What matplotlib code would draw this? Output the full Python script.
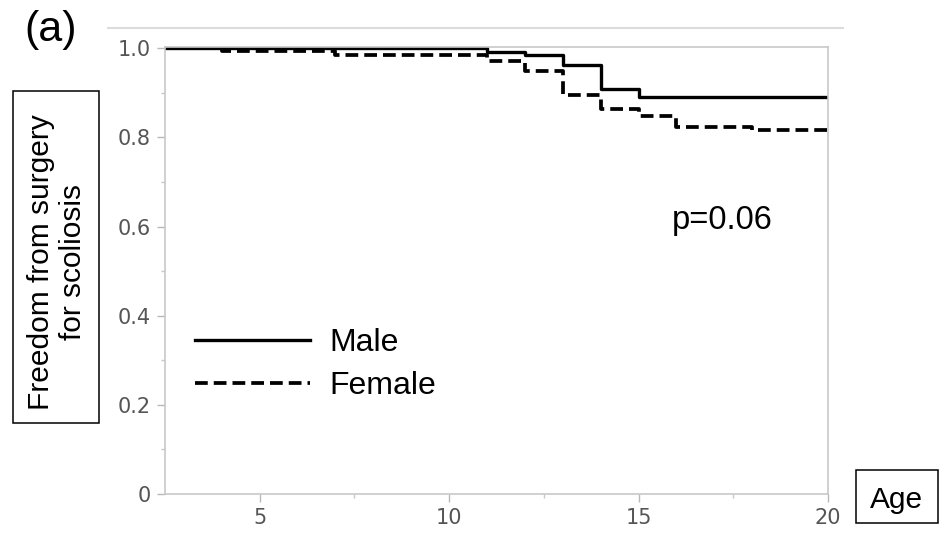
import matplotlib
matplotlib.use("Agg")
import matplotlib.pyplot as plt
from matplotlib.lines import Line2D
from matplotlib.patches import Rectangle

# ---- data ----
male_age = [2.5, 11, 12, 13, 14, 15, 20]
male_surv = [1.0, 0.992, 0.984, 0.963, 0.908, 0.890, 0.890]
female_age = [2.5, 4, 7, 11, 12, 13, 14, 15, 16, 18, 20]
female_surv = [1.0, 0.993, 0.986, 0.971, 0.949, 0.895, 0.864, 0.848, 0.823, 0.816, 0.810]
x_major = [5, 10, 15, 20]
x_minor = [7.5, 12.5, 17.5]
y_major = [0, 0.2, 0.4, 0.6, 0.8, 1.0]
y_major_labels = ["0", "0.2", "0.4", "0.6", "0.8", "1.0"]
y_minor = [0.1, 0.3, 0.5, 0.7, 0.9]

W, H = 939, 537
def fx(x):
    return x / W
def fy(y):
    return 1 - y / H

fig = plt.figure(figsize=(W / 100, H / 100), dpi=100)
ax = fig.add_axes([fx(165), fy(494), fx(828) - fx(165), fy(47) - fy(494)])

ax.step(male_age, male_surv, where="post", color="black", lw=2.4, label="Male")
ax.step(female_age, female_surv, where="post", color="black", lw=2.7,
        linestyle=(0, (3.4, 1.6)), label="Female")

ax.set_xlim(2.5, 20)
ax.set_ylim(0, 1.003)
ax.set_xticks(x_major)
ax.set_xticks(x_minor, minor=True)
ax.set_yticks(y_major)
ax.set_yticklabels(y_major_labels)
ax.set_yticks(y_minor, minor=True)

for s in ax.spines.values():
    s.set_color("#c8c8c8")
    s.set_linewidth(1.2)
ax.tick_params(which="major", length=6, width=1.0, color="#b8b8b8",
               labelsize=15, labelcolor="#555555", pad=4)
ax.tick_params(which="minor", length=3, width=1.0, color="#c8c8c8")

sans = "Liberation Sans"

leg = ax.legend(loc="upper left", bbox_to_anchor=(fx(195), fy(328)),
                bbox_transform=fig.transFigure, frameon=False,
                borderpad=0, borderaxespad=0, handlelength=3.6,
                handletextpad=0.62, labelspacing=0.42,
                prop={"family": sans, "size": 23})

fig.text(fx(672), fy(229), "p=0.06", fontsize=23.5, family=sans,
         ha="left", va="baseline")

# top separator line
fig.add_artist(Line2D([fx(108), fx(843)], [fy(28), fy(28)],
                      transform=fig.transFigure, color="#dcdcdc", lw=1.5))

# (a)
fig.text(fx(51), fy(30), "(a)", fontsize=31, family=sans, ha="center", va="center")

# y-label box
fig.add_artist(Rectangle((fx(13), fy(423)), fx(99) - fx(13), fy(91) - fy(423),
                         transform=fig.transFigure, fill=False, ec="black", lw=1.1))
fig.text(fx(57), fy(262), "Freedom from surgery\nfor scoliosis", fontsize=21.5,
         family=sans, rotation=90, ha="center", va="center",
         multialignment="center", linespacing=1.22)

# Age box
fig.add_artist(Rectangle((fx(856), fy(523)), fx(938) - fx(856), fy(470) - fy(523),
                         transform=fig.transFigure, fill=False, ec="black", lw=1.1))
fig.text(fx(897), fy(508), "Age", fontsize=21.5, family=sans, ha="center", va="baseline")

fig.savefig("out.png", dpi=100)
